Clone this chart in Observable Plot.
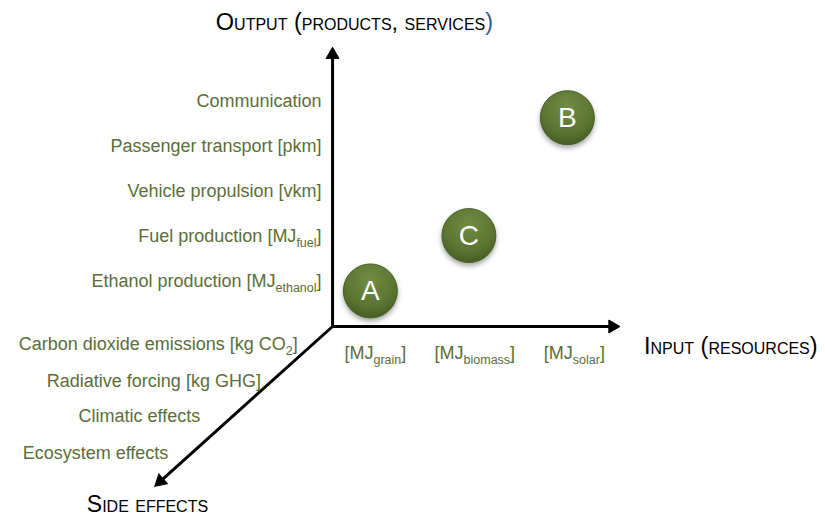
<!DOCTYPE html>
<html><head><meta charset="utf-8">
<script src="https://cdn.jsdelivr.net/npm/d3@7"></script>
<script src="https://cdn.jsdelivr.net/npm/@observablehq/plot@0.6"></script>
<style>
body{margin:0;background:#fff;}
</style>
</head><body><div id="chart"></div>
<script>
// ---- data ----
const outputLabels = ["Ethanol production [MJ_{ethanol}]", "Fuel production [MJ_{fuel}]", "Vehicle propulsion [vkm]", "Passenger transport [pkm]", "Communication"];
const outputLevels = [1, 2, 3, 4, 5];
const inputLabels = ["[MJ_{grain}]", "[MJ_{biomass}]", "[MJ_{solar}]"];
const inputLevels = [1, 2, 3];
const sideLabels = ["Carbon dioxide emissions [kg CO_{2}]", "Radiative forcing [kg GHG]", "Climatic effects", "Ecosystem effects"];
const sideLabelX = [0.22, -0.15, -0.76, -1.08];
const sideLabelY = [-0.40, -1.22, -2.00, -2.82];
const caseNames = ["A", "C", "B"];
const caseInput = [0.95, 1.94, 2.93];
const caseOutput = [0.79, 2.02, 4.64];
const axisTitles = ["Output (products, services~{)}", "Input (resources)", "Side effects"];
const axisTitleX = [0.79, 3.70, -1.29];
const axisTitleY = [6.76, -0.44, -3.95];
const axisTitleSize = [23.5, 23.5, 23];
const axisTitleAnchor = ["middle", "start", "middle"];
const ORIGIN = {x: 0.57, y: 0};
const axisEnds = [{x: 0.57, y: 6.04}, {x: 3.384, y: 0}, {x: -1.161, y: -3.44}];

// ---- layout ----
const W = 825, H = 517;
const X_DOMAIN = [-2.767, 5.524];
const Y_DOMAIN = [-4.244, 7.244];
const GREEN = "#5b6e39";
const FONT = "'Liberation Sans', Arial, Helvetica, sans-serif";

const sx = Plot.scale({x: {domain: X_DOMAIN, range: [0, W]}});
const sy = Plot.scale({y: {domain: Y_DOMAIN, range: [H, 0]}});

const outputs = outputLabels.map((label, i) => ({label, level: outputLevels[i]}));
const inputs = inputLabels.map((label, i) => ({label, level: inputLevels[i]}));
const sides = sideLabels.map((label, i) => ({label, x: sideLabelX[i], y: sideLabelY[i]}));
const cases = caseNames.map((name, i) => ({name, input: caseInput[i], output: caseOutput[i]}));
const titles = axisTitles.map((t, i) => ({t, x: axisTitleX[i], y: axisTitleY[i], size: axisTitleSize[i], anchor: axisTitleAnchor[i]}));
const axes = axisEnds.map(e => {
  const dxp = sx.apply(e.x) - sx.apply(ORIGIN.x);
  const dyp = sy.apply(e.y) - sy.apply(ORIGIN.y);
  return {x1: ORIGIN.x, y1: ORIGIN.y, x2: e.x, y2: e.y, rot: Math.atan2(dxp, -dyp) * 180 / Math.PI};
});

const titleMarks = titles.map(d => Plot.text([d], {x: "x", y: "y", text: "t", textAnchor: d.anchor, fill: "black", fontSize: d.size, fontVariant: "small-caps"}));

const svg = Plot.plot({
  width: W, height: H, margin: 0,
  x: {domain: X_DOMAIN, axis: null},
  y: {domain: Y_DOMAIN, axis: null},
  style: {fontFamily: FONT, background: "white"},
  marks: [
    Plot.link(axes, {x1: "x1", y1: "y1", x2: "x2", y2: "y2", stroke: "black", strokeWidth: 3}),
    Plot.dot(axes, {x: "x2", y: "y2", symbol: "triangle", r: 4.8, fill: "black", stroke: "black", strokeWidth: 1, rotate: "rot"}),
    Plot.text(outputs, {x: () => ORIGIN.x, y: "level", text: "label", textAnchor: "end", dx: -11, fill: GREEN, fontSize: 18}),
    Plot.text(inputs, {x: "level", y: () => ORIGIN.y, text: "label", textAnchor: "middle", dy: 27, fill: GREEN, fontSize: 18}),
    Plot.text(sides, {x: "x", y: "y", text: "label", textAnchor: "end", fill: GREEN, fontSize: 18}),
    ...titleMarks,
    Plot.dot(cases, {x: "input", y: "output", r: 27, fill: "url(#ball)", stroke: "#4a5f27", strokeWidth: 1}),
    Plot.text(cases, {x: "input", y: "output", text: "name", fill: "white", fontSize: 28, textAnchor: "middle"})
  ]
});

// gradient + shadow defs
const root = d3.select(svg);
const defs = root.insert("defs", ":first-child");
const g = defs.append("radialGradient").attr("id", "ball").attr("cx", "50%").attr("cy", "30%").attr("r", "70%");
g.append("stop").attr("offset", "0%").attr("stop-color", "#718c44");
g.append("stop").attr("offset", "65%").attr("stop-color", "#5c7632");
g.append("stop").attr("offset", "100%").attr("stop-color", "#485e25");
const f = defs.append("filter").attr("id", "shadow").attr("x", "-40%").attr("y", "-40%").attr("width", "180%").attr("height", "190%");
f.append("feDropShadow").attr("dx", 0).attr("dy", 3).attr("stdDeviation", 2.5).attr("flood-color", "#000").attr("flood-opacity", 0.35);
root.selectAll("circle").attr("filter", "url(#shadow)");

// rich text: _{sub} subscripts, ~{blue} coloured runs
root.selectAll("text").each(function() {
  const el = this;
  const s = el.textContent;
  if (!/[_~]\{/.test(s)) return;
  el.textContent = "";
  const parts = s.split(/([_~]\{[^}]*\})/);
  let shift = 0;
  for (const p of parts) {
    if (!p) continue;
    const m = p.match(/^([_~])\{([^}]*)\}$/);
    const ts = d3.select(el).append("tspan");
    if (m && m[1] === "_") {
      ts.text(m[2]).attr("font-size", "12.5px").attr("dy", 5 - shift);
      shift = 5;
    } else if (m && m[1] === "~") {
      ts.text(m[2]).attr("fill", "#2b5d9c");
      if (shift) { ts.attr("dy", -shift); shift = 0; }
    } else {
      ts.text(p);
      if (shift) { ts.attr("dy", -shift); shift = 0; }
    }
  }
});

document.getElementById("chart").appendChild(svg);
</script>
</body></html>
